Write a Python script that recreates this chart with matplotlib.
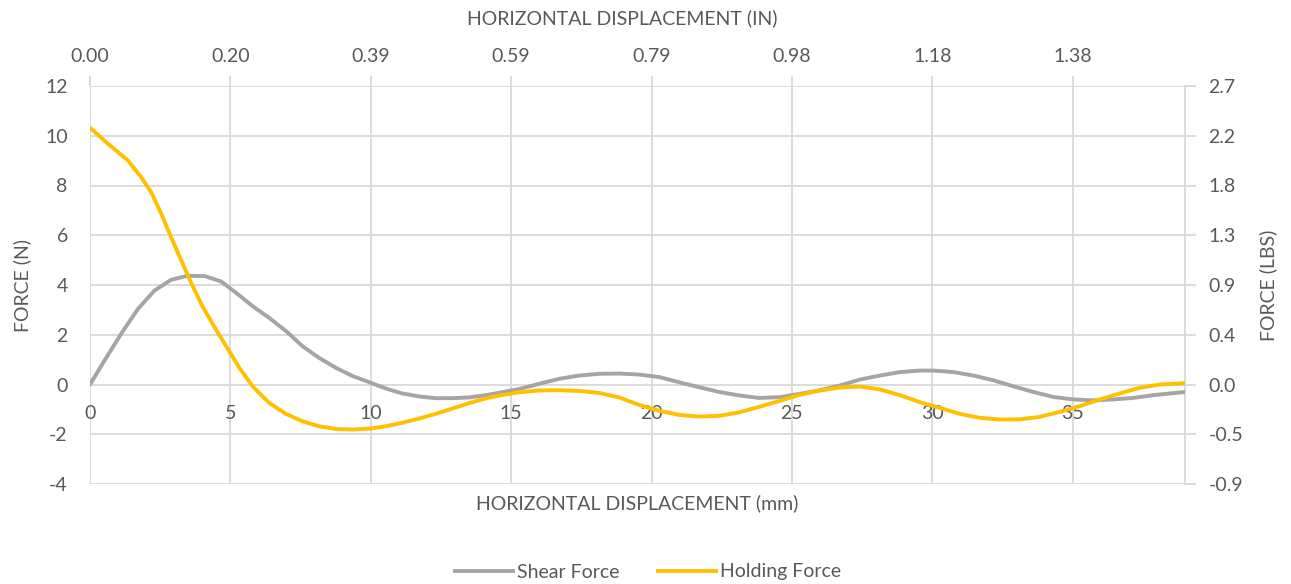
import matplotlib
matplotlib.use("Agg")
import matplotlib.pyplot as plt
from matplotlib.lines import Line2D

plt.rcParams['font.family'] = ['Lato', 'DejaVu Sans']
plt.rcParams['axes.unicode_minus'] = False

# ---- data ----
shear_x = [0, 0.52, 1.11, 1.71, 2.3, 2.89, 3.48, 4.08, 4.67, 5.2, 5.79, 6.38, 6.98, 7.57,
           8.16, 8.76, 9.35, 10.0, 10.53, 11.12, 11.72, 12.31, 12.9, 13.5, 14.09, 14.68,
           15.3, 16.0, 16.72, 17.43, 18.14, 18.85, 19.56, 20.27, 20.98, 21.7, 22.41,
           23.12, 23.83, 24.56, 25.25, 25.96, 26.71, 27.42, 28.14, 28.85, 29.56, 30.04,
           30.75, 31.46, 32.17, 32.88, 33.6, 34.31, 35.02, 35.73, 36.44, 37.15, 37.86, 39.0]
shear_n = [0, 0.97, 2.04, 3.04, 3.78, 4.21, 4.37, 4.36, 4.14, 3.69, 3.15, 2.68, 2.15, 1.54,
           1.07, 0.67, 0.34, 0.07, -0.16, -0.36, -0.48, -0.55, -0.55, -0.52, -0.43, -0.31,
           -0.18, 0.03, 0.23, 0.36, 0.43, 0.44, 0.4, 0.3, 0.09, -0.11, -0.3,
           -0.44, -0.54, -0.51, -0.38, -0.24, -0.04, 0.2, 0.36, 0.5, 0.56, 0.56,
           0.5, 0.36, 0.17, -0.07, -0.3, -0.5, -0.6, -0.64, -0.6, -0.54, -0.43, -0.3]

hold_x = [0, 0.64, 1.35, 1.82, 2.18, 2.54, 2.89, 3.25, 3.6, 3.96, 4.43, 4.96, 5.32, 5.79,
          6.38, 6.98, 7.57, 8.16, 8.76, 9.35, 10.0, 10.53, 11.12, 11.72, 12.31, 12.9,
          13.5, 14.09, 14.68, 15.3, 16.0, 16.72, 17.43, 18.14, 18.85, 19.56, 20.27,
          20.98, 21.7, 22.41, 23.12, 23.83, 24.56, 25.25, 25.96, 26.71, 27.42, 28.14,
          28.85, 29.56, 30.27, 30.98, 31.69, 32.4, 33.12, 33.83, 34.54, 35.26, 35.97,
          36.68, 37.39, 38.1, 39.0]
hold_n = [10.32, 9.68, 9.01, 8.34, 7.73, 6.86, 5.92, 4.99, 4.1, 3.24, 2.31, 1.34, 0.67, -0.07,
          -0.74, -1.18, -1.48, -1.68, -1.79, -1.81, -1.77, -1.68, -1.54, -1.37, -1.18, -0.97,
          -0.75, -0.56, -0.42, -0.31, -0.24, -0.23, -0.26, -0.34, -0.52, -0.82, -1.06,
          -1.22, -1.29, -1.26, -1.12, -0.9, -0.66, -0.42, -0.25, -0.12, -0.08, -0.2,
          -0.43, -0.71, -0.94, -1.18, -1.34, -1.41, -1.4, -1.3, -1.1, -0.87, -0.6,
          -0.36, -0.13, 0.0, 0.05]

mm_ticks = [0, 5, 10, 15, 20, 25, 30, 35]
in_labels = ['0.00', '0.20', '0.39', '0.59', '0.79', '0.98', '1.18', '1.38']
n_ticks = [-4, -2, 0, 2, 4, 6, 8, 10, 12]
lbs_labels = ['-0.9', '-0.5', '0.0', '0.4', '0.9', '1.3', '1.8', '2.2', '2.7']

GRID = '#d9d9d9'
TXT = '#595959'
GREY = '#a5a5a5'
GOLD = '#ffc000'
FS = 14

fig = plt.figure(figsize=(12.91, 5.84), dpi=100)
ax = fig.add_axes([90 / 1291, 1 - 484 / 584, (1185 - 90) / 1291, (484 - 86) / 584])

ax.plot(shear_x, shear_n, color=GREY, lw=2.8, solid_capstyle='round',
        solid_joinstyle='round', zorder=3)
ax.plot(hold_x, hold_n, color=GOLD, lw=2.8, solid_capstyle='round',
        solid_joinstyle='round', zorder=4)

ax.set_xlim(0, 39)
ax.set_ylim(-4, 12)
ax.set_yticks(n_ticks)
ax.set_xticks(mm_ticks)
ax.grid(True, color=GRID, lw=1.3)
ax.set_axisbelow(True)
for s in ax.spines.values():
    s.set_visible(False)
ax.spines['right'].set_visible(True)
ax.spines['right'].set_color(GRID)
ax.spines['right'].set_linewidth(1.3)

# bottom labels sit just under the zero line
ax.spines['bottom'].set_position(('data', 0))
ax.tick_params(axis='x', length=0, pad=15, labelsize=FS, labelcolor=TXT)
ax.tick_params(axis='y', length=0, pad=16, labelsize=FS, labelcolor=TXT)

# secondary axes
ax_top = ax.twiny()
ax_top.set_xlim(ax.get_xlim())
ax_top.set_xticks(mm_ticks)
ax_top.set_xticklabels(in_labels)
ax_top.tick_params(axis='x', direction='out', length=7, width=1.3, color=GRID,
                   pad=8, labelsize=FS, labelcolor=TXT)
for s in ax_top.spines.values():
    s.set_visible(False)

ax_r = ax.twinx()
ax_r.set_ylim(ax.get_ylim())
ax_r.set_yticks(n_ticks)
ax_r.set_yticklabels(lbs_labels)
ax_r.tick_params(axis='y', direction='out', length=8, width=1.3, color=GRID,
                 pad=9, labelsize=FS, labelcolor=TXT)
for s in ax_r.spines.values():
    s.set_visible(False)

fig.text(622 / 1291, 1 - 18 / 584, 'HORIZONTAL DISPLACEMENT (IN)', ha='center', va='center',
         fontsize=FS, color=TXT)
fig.text(637 / 1291, 1 - 503 / 584, 'HORIZONTAL DISPLACEMENT (mm)', ha='center', va='center',
         fontsize=FS, color=TXT)
fig.text(22 / 1291, 1 - 285 / 584, 'FORCE (N)', rotation=90, ha='center', va='center',
         fontsize=FS, color=TXT)
fig.text(1268 / 1291, 1 - 285 / 584, 'FORCE (LBS)', rotation=90, ha='center', va='center',
         fontsize=FS, color=TXT)

handles = [Line2D([], [], color=GREY, lw=2.8), Line2D([], [], color=GOLD, lw=2.8)]
fig.legend(handles, ['Shear Force', 'Holding Force'], loc='center',
           bbox_to_anchor=(648 / 1291, 1 - 572 / 584), ncol=2, frameon=False,
           fontsize=FS, labelcolor=TXT, handlelength=3.0, handletextpad=0.2,
           columnspacing=2.0)

fig.savefig('out.png', dpi=100)
